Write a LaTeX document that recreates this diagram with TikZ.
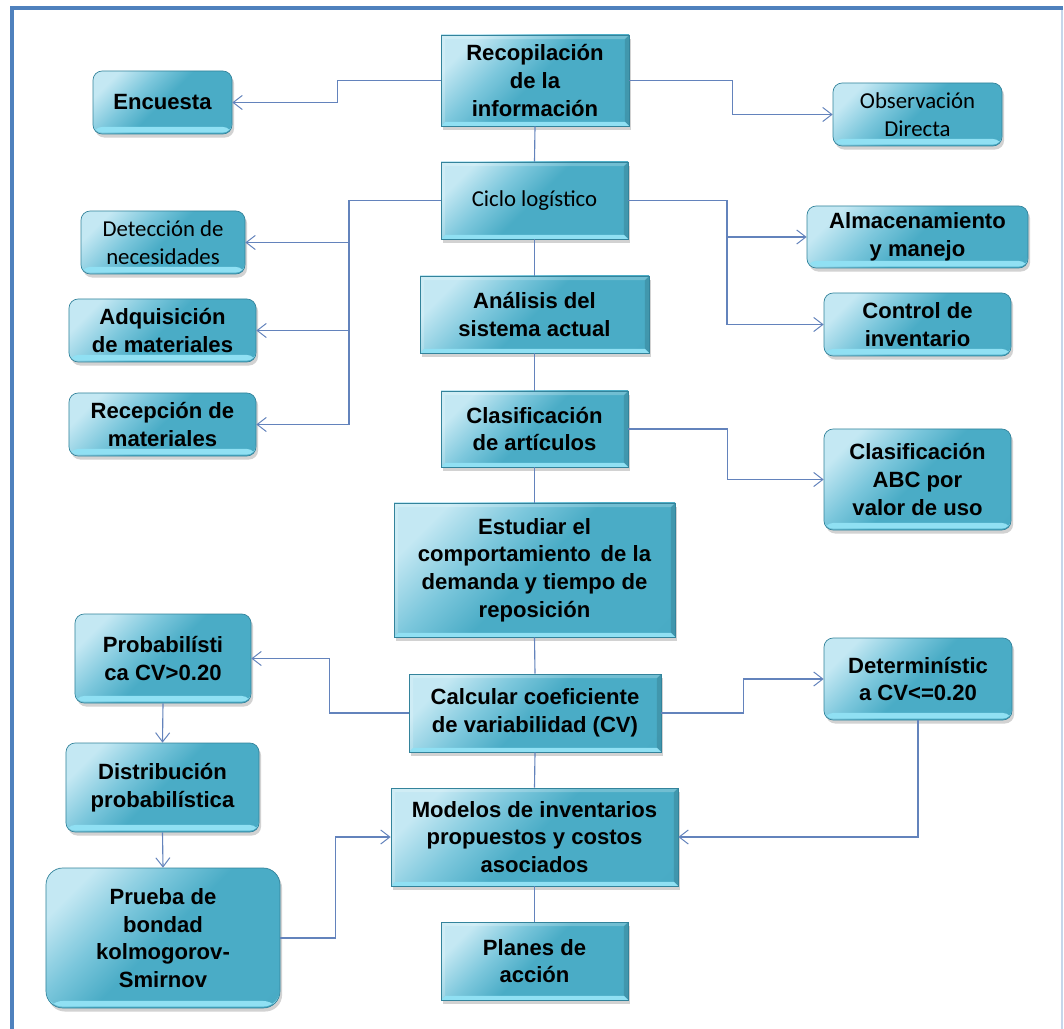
\documentclass[tikz,border=0pt]{standalone}
\usepackage{fontspec}
\setmainfont{Liberation Sans}
\newfontfamily\calibrifont{Carlito}
\usetikzlibrary{arrows.meta,shadows}

\definecolor{framec}{HTML}{4F81BD}
\definecolor{framer}{HTML}{C6D6EA}
\definecolor{boxhl}{HTML}{C4E8F3}
\definecolor{boxmid}{HTML}{7CC7DC}
\definecolor{boxbase}{HTML}{4AACC6}
\definecolor{boxdeep}{HTML}{43A3BE}
\definecolor{boxedge}{HTML}{33839B}
\definecolor{bandc}{HTML}{90E0F3}
\definecolor{linkc}{HTML}{6383BC}

\pgfdeclarehorizontalshading{boxglow}{100bp}{color(0bp)=(boxhl); color(24bp)=(boxhl); color(38bp)=(boxmid); color(50bp)=(boxbase); color(80bp)=(boxbase); color(100bp)=(boxdeep)}

% node of given corners (in px units), centred text
\newcommand\flowbox[7]{%
  \pgfmathsetmacro\fbw{(#5-#3)*0.025}%
  \pgfmathsetmacro\fbh{(#6-#4)*0.025}%
  \node[#2, minimum width=\fbw cm, minimum height=\fbh cm] (#1) at ({(#3+#5)/2},{(#4+#6)/2}) {#7};%
}

\tikzset{
  basebox/.style={draw=boxedge, line width=0.5pt, shade, shading=boxglow, shading angle=-45,
    drop shadow={shadow xshift=1.5pt, shadow yshift=-2.5pt, opacity=0.25, fill=black!70},
    inner sep=2pt, align=center, text=black},
  arialb/.style={font=\fontsize{15.7}{19.7}\selectfont\bfseries},
  calib/.style={font=\fontsize{16.2}{19.7}\selectfont\calibrifont},
  bevel/.style={path picture={
    \coordinate (pa) at (path picture bounding box.north west);
    \coordinate (pb) at (path picture bounding box.south east);
    \fill[white, opacity=0.22] (pa) -- (pa -| pb) -- ([xshift=-3pt,yshift=-3pt]pa -| pb) -- ([xshift=3pt,yshift=-3pt]pa) -- cycle;
    \fill[white, opacity=0.18] (pa) -- ([xshift=3pt,yshift=-3pt]pa) -- ([xshift=3pt,yshift=3pt]pa |- pb) -- (pa |- pb) -- cycle;
    \fill[black, opacity=0.12] (pa -| pb) -- (pb) -- ([xshift=-3pt,yshift=3pt]pb) -- ([xshift=-3pt,yshift=-3pt]pa -| pb) -- cycle;
    \fill[bandc] (pa |- pb) -- (pb) -- ([xshift=-3pt,yshift=3pt]pb) -- ([xshift=3pt,yshift=3pt]pa |- pb) -- cycle;
  }},
  gloss/.style={path picture={
    \fill[bandc] ([yshift=1pt]path picture bounding box.south west) rectangle ([yshift=5pt]path picture bounding box.south east);
  }},
  sqbox/.style={basebox, rectangle, bevel, arialb},
  sqboxc/.style={basebox, rectangle, bevel, calib},
  rdbox/.style={basebox, rectangle, rounded corners=6.5pt, gloss, arialb},
  rdboxc/.style={basebox, rectangle, rounded corners=6.5pt, gloss, calib},
  bigrd/.style={basebox, rectangle, rounded corners=12pt, gloss, arialb},
  link/.style={draw=linkc, line width=0.8pt},
  arr/.style={link, -{Straight Barb[length=6.5pt, width=10pt, line width=0.7pt]}},
}

\begin{document}
\begin{tikzpicture}[x=0.025cm, y=-0.025cm]
\useasboundingbox (0,0) rectangle (1064,1029);
\fill[white] (0,0) rectangle (1064,1029);

% outer frame
\draw[framer, line width=0.8pt] (1062,8) -- (1062,1040);
\draw[framec, line width=2.2pt] (12,1040) -- (12,8) -- (1063,8);

% central column
\flowbox{reco}{sqbox}{441}{35}{629}{126}{Recopilación\\de la\\información}
\flowbox{ciclo}{sqboxc}{441}{162}{628}{239}{Ciclo logístico}
\flowbox{anal}{sqbox}{420}{276}{649}{353}{Análisis del\\sistema actual}
\flowbox{clas}{sqbox}{441}{391}{628}{467}{Clasificación\\de artículos}
\flowbox{estu}{sqbox}{394}{503}{675}{637}{Estudiar el\\comportamiento\, de la\\demanda y tiempo de\\reposición}
\flowbox{calc}{sqbox}{409}{674}{661}{752}{Calcular coeficiente\\de variabilidad (CV)}
\flowbox{mode}{sqbox}{391}{788}{678}{886}{Modelos de inventarios\\propuestos y costos\\asociados}
\flowbox{plan}{sqbox}{441}{922}{628}{1000}{Planes de\\acción}

% left branch
\flowbox{encu}{rdbox}{93}{71}{232}{134}{Encuesta}
\flowbox{dete}{rdboxc}{81}{211}{245}{274}{Detección de\\necesidades}
\flowbox{adqu}{rdbox}{69}{299}{256}{362}{Adquisición\\de materiales}
\flowbox{rece}{rdbox}{69}{393}{256}{456}{Recepción de\\materiales}
\flowbox{prob}{rdbox}{75}{614}{251}{703}{Probabilísti\\ca CV>0.20}
\flowbox{dist}{rdbox}{66}{743}{259}{832}{Distribución\\probabilística}
\flowbox{prue}{bigrd}{46}{868}{280}{1008}{Prueba de\\bondad\\kolmogorov-\\Smirnov}

% right branch
\flowbox{obse}{rdboxc}{833}{83}{1002}{146}{Observación\\Directa}
\flowbox{alma}{rdbox}{807}{206}{1028}{268}{Almacenamiento\\y manejo}
\flowbox{cont}{rdbox}{824}{293}{1011}{356}{Control de\\inventario}
\flowbox{abc}{rdbox}{824}{429}{1011}{530}{Clasificación\\ABC por\\valor de uso}
\flowbox{dtrm}{rdbox}{824}{638}{1012}{720}{Determinístic\\a CV<=0.20}

% bus junctions
\coordinate (lbus) at (349,200.5);
\coordinate (rbus) at (727,200.5);

% vertical links of the central column
\draw[link] (reco.south) -- (ciclo.north);
\draw[link] (ciclo.south) -- (anal.north);
\draw[link] (anal.south) -- (clas.north);
\draw[link] (clas.south) -- (estu.north);
\draw[link] (estu.south) -- (calc.north);
\draw[link] (calc.south) -- (mode.north);
\draw[link] (mode.south) -- (plan.north);

% information sources
\draw[arr] (reco.west) -- ++(-103,0) |- (encu.east);
\draw[arr] (reco.east) -- ++(103,0) |- (obse.west);

% logistic cycle
\draw[link] (ciclo.west) -- (lbus);
\draw[arr] (lbus) |- (dete.east);
\draw[arr] (lbus) |- (adqu.east);
\draw[arr] (lbus) |- (rece.east);
\draw[link] (ciclo.east) -- (rbus);
\draw[arr] (rbus) |- (alma.west);
\draw[arr] (rbus) |- (cont.west);

% ABC classification
\draw[arr] (clas.east) -- ++(99,0) |- (abc.west);

% coefficient of variation split
\draw[arr] (calc.west) -- ++(-79,0) |- (prob.east);
\draw[arr] (calc.east) -- ++(82,0) |- (dtrm.west);
\draw[arr] (prob.south) -- (dist.north);
\draw[arr] (dist.south) -- (prue.north);
\draw[arr] (prue.east) -- ++(55,0) |- (mode.west);
\draw[arr] (dtrm.south) |- (mode.east);
\end{tikzpicture}
\end{document}
